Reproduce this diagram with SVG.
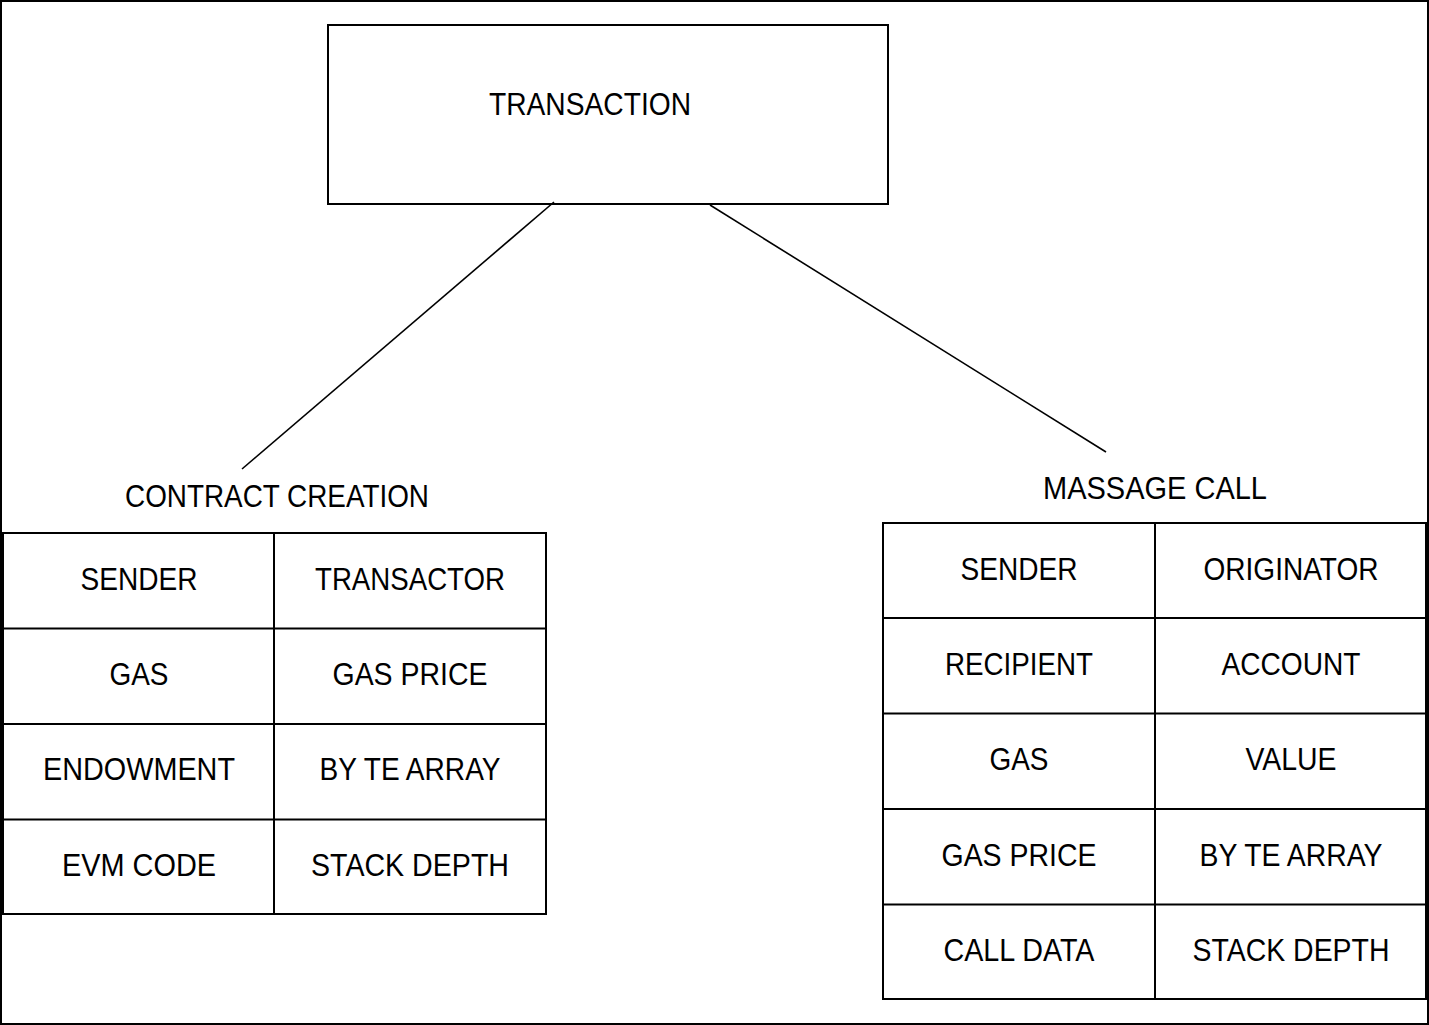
<svg xmlns="http://www.w3.org/2000/svg" width="1429" height="1025" viewBox="0 0 1429 1025">
<style>
.box{fill:none;stroke:#000;stroke-width:2}
.conn{stroke:#000;stroke-width:1.6;fill:none}
text{font-family:"Liberation Sans","DejaVu Sans",sans-serif;font-size:31px;fill:#000;text-anchor:middle}
.big{font-size:31px}
</style>
<rect x="0" y="0" width="1429" height="1025" fill="#fff"/>
<rect x="1" y="1" width="1427" height="1023" fill="none" stroke="#000" stroke-width="2"/>
<g id="connectors">
<line class="conn" x1="554" y1="202" x2="242" y2="469"/>
<line class="conn" x1="710" y1="205" x2="1106" y2="452"/>
</g>
<g id="transaction">
<rect class="box" x="328" y="25" width="560" height="179"/>
<text class="big" x="590" y="115" textLength="202" lengthAdjust="spacingAndGlyphs">TRANSACTION</text>
</g>
<g id="contract-creation">
<text x="277" y="507" textLength="304" lengthAdjust="spacingAndGlyphs">CONTRACT CREATION</text>
<rect class="box" x="3" y="533" width="543" height="381"/>
<line class="box" x1="274" y1="533" x2="274" y2="914"/>
<line class="box" x1="3" y1="628.5" x2="546" y2="628.5"/>
<line class="box" x1="3" y1="724" x2="546" y2="724"/>
<line class="box" x1="3" y1="819.5" x2="546" y2="819.5"/>
<text x="139" y="590" textLength="117" lengthAdjust="spacingAndGlyphs">SENDER</text>
<text x="410" y="590" textLength="190" lengthAdjust="spacingAndGlyphs">TRANSACTOR</text>
<text x="139" y="685" textLength="59" lengthAdjust="spacingAndGlyphs">GAS</text>
<text x="410" y="685" textLength="155" lengthAdjust="spacingAndGlyphs">GAS PRICE</text>
<text x="139" y="780" textLength="192" lengthAdjust="spacingAndGlyphs">ENDOWMENT</text>
<text x="410" y="780" textLength="181" lengthAdjust="spacingAndGlyphs">BY TE ARRAY</text>
<text x="139" y="876" textLength="154" lengthAdjust="spacingAndGlyphs">EVM CODE</text>
<text x="410" y="876" textLength="198" lengthAdjust="spacingAndGlyphs">STACK DEPTH</text>
</g>
<g id="message-call">
<text x="1155" y="499" textLength="224" lengthAdjust="spacingAndGlyphs">MASSAGE CALL</text>
<rect class="box" x="883" y="523" width="543" height="476"/>
<line class="box" x1="1155" y1="523" x2="1155" y2="999"/>
<line class="box" x1="883" y1="618" x2="1426" y2="618"/>
<line class="box" x1="883" y1="713.5" x2="1426" y2="713.5"/>
<line class="box" x1="883" y1="809" x2="1426" y2="809"/>
<line class="box" x1="883" y1="904.5" x2="1426" y2="904.5"/>
<text x="1019" y="580" textLength="117" lengthAdjust="spacingAndGlyphs">SENDER</text>
<text x="1291" y="580" textLength="175" lengthAdjust="spacingAndGlyphs">ORIGINATOR</text>
<text x="1019" y="675" textLength="148" lengthAdjust="spacingAndGlyphs">RECIPIENT</text>
<text x="1291" y="675" textLength="139" lengthAdjust="spacingAndGlyphs">ACCOUNT</text>
<text x="1019" y="770" textLength="59" lengthAdjust="spacingAndGlyphs">GAS</text>
<text x="1291" y="770" textLength="91" lengthAdjust="spacingAndGlyphs">VALUE</text>
<text x="1019" y="866" textLength="155" lengthAdjust="spacingAndGlyphs">GAS PRICE</text>
<text x="1291" y="866" textLength="183" lengthAdjust="spacingAndGlyphs">BY TE ARRAY</text>
<text x="1019" y="961" textLength="151" lengthAdjust="spacingAndGlyphs">CALL DATA</text>
<text x="1291" y="961" textLength="197" lengthAdjust="spacingAndGlyphs">STACK DEPTH</text>
</g>
</svg>
